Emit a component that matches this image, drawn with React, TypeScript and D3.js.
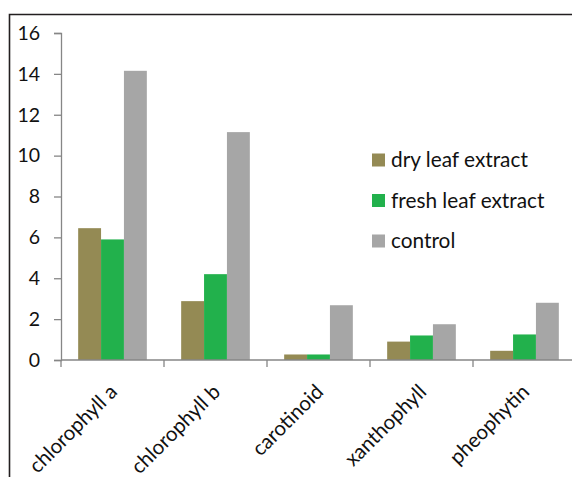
import React, { useEffect, useRef } from 'react';
import * as d3 from 'd3';

const categories = ['chlorophyll a', 'chlorophyll b', 'carotinoid', 'xanthophyll', 'pheophytin'];
const seriesNames = ['dry leaf extract', 'fresh leaf extract', 'control'];
const dryLeaf = [6.45, 2.88, 0.27, 0.9, 0.45];
const freshLeaf = [5.9, 4.2, 0.27, 1.2, 1.25];
const control = [14.15, 11.15, 2.68, 1.75, 2.8];
const yTicks = [0, 2, 4, 6, 8, 10, 12, 14, 16];
const colors = ['#948a54', '#22b14c', '#a6a6a6'];

const App: React.FC = () => {
  const svgRef = useRef<SVGSVGElement>(null);

  useEffect(() => {
    if (!svgRef.current) return;
    const W = 572;
    const H = 477;
    const font = 'Lato, "Open Sans", sans-serif';

    d3.select(svgRef.current).selectAll('*').remove();
    const svg = d3.select(svgRef.current).attr('width', W).attr('height', H);

    svg.append('rect').attr('width', W).attr('height', H).attr('fill', '#fff');

    // outer frame (top and left edges visible)
    svg.append('path')
      .attr('d', `M9.5,${H} V14.5 H${W}`)
      .attr('fill', 'none')
      .attr('stroke', '#231f20')
      .attr('stroke-width', 1.6);

    const left = 61;
    const bandW = 103;
    const x = d3.scaleBand()
      .domain(categories)
      .range([left, left + bandW * categories.length])
      .paddingInner(0)
      .paddingOuter(0);

    const y = d3.scaleLinear().domain([0, 16]).range([360, 33]);

    const data = [dryLeaf, freshLeaf, control];
    const barW = bandW / (3 + 1.5);
    const xs = d3.scaleBand<number>()
      .domain([0, 1, 2])
      .range([0, barW * 3]);

    const g = svg.append('g');

    // y axis
    const yAxis = g.append('g')
      .attr('transform', `translate(${left},0)`)
      .call(d3.axisLeft(y).tickValues(yTicks).tickSize(7).tickPadding(14).tickFormat(d3.format('d')));
    yAxis.select('.domain').attr('stroke', '#868686').attr('stroke-width', 1.3);
    yAxis.selectAll('.tick line').attr('stroke', '#868686').attr('stroke-width', 1.3);
    yAxis.selectAll('.tick text')
      .attr('fill', '#111')
      .style('font-family', font)
      .style('font-size', '19.5px');

    // bars
    data.forEach((vals, si) => {
      g.append('g')
        .selectAll('rect')
        .data(vals)
        .enter()
        .append('rect')
        .attr('x', (_, i) => (x(categories[i]) as number) + (bandW - barW * 3) / 2 + (xs(si) as number))
        .attr('y', d => y(d))
        .attr('width', barW)
        .attr('height', d => y(0) - y(d))
        .attr('fill', colors[si]);
    });

    // x axis
    const xAxis = g.append('g')
      .attr('transform', `translate(0,${y(0)})`);
    xAxis.append('line')
      .attr('x1', left).attr('x2', W)
      .attr('stroke', '#868686').attr('stroke-width', 1.3);
    xAxis.selectAll('line.tk')
      .data(categories)
      .enter()
      .append('line')
      .attr('class', 'tk')
      .attr('x1', d => x(d) as number)
      .attr('x2', d => x(d) as number)
      .attr('y1', 0).attr('y2', 7)
      .attr('stroke', '#868686').attr('stroke-width', 1.3);

    xAxis.selectAll('text')
      .data(categories)
      .enter()
      .append('text')
      .attr('transform', d => `translate(${(x(d) as number) + bandW / 2 + 1},${28}) rotate(-45)`)
      .attr('text-anchor', 'end')
      .attr('dy', '0.35em')
      .attr('fill', '#111')
      .style('font-family', font)
      .style('font-size', '20.5px')
      .text(d => d);

    // legend
    const legend = svg.append('g');
    seriesNames.forEach((name, i) => {
      const cy = 160 + i * 40.5;
      legend.append('rect')
        .attr('x', 372).attr('y', cy - 6.5)
        .attr('width', 13).attr('height', 13)
        .attr('fill', colors[i]);
      legend.append('text')
        .attr('x', 391).attr('y', cy)
        .attr('dy', '0.35em')
        .attr('fill', '#111')
        .style('font-family', font)
        .style('font-size', '20.8px')
        .text(name);
    });
  }, []);

  return (
    <div style={{ position: 'absolute', left: 0, top: 0 }}>
      <svg ref={svgRef} style={{ display: 'block' }}></svg>
    </div>
  );
};

export default App;
